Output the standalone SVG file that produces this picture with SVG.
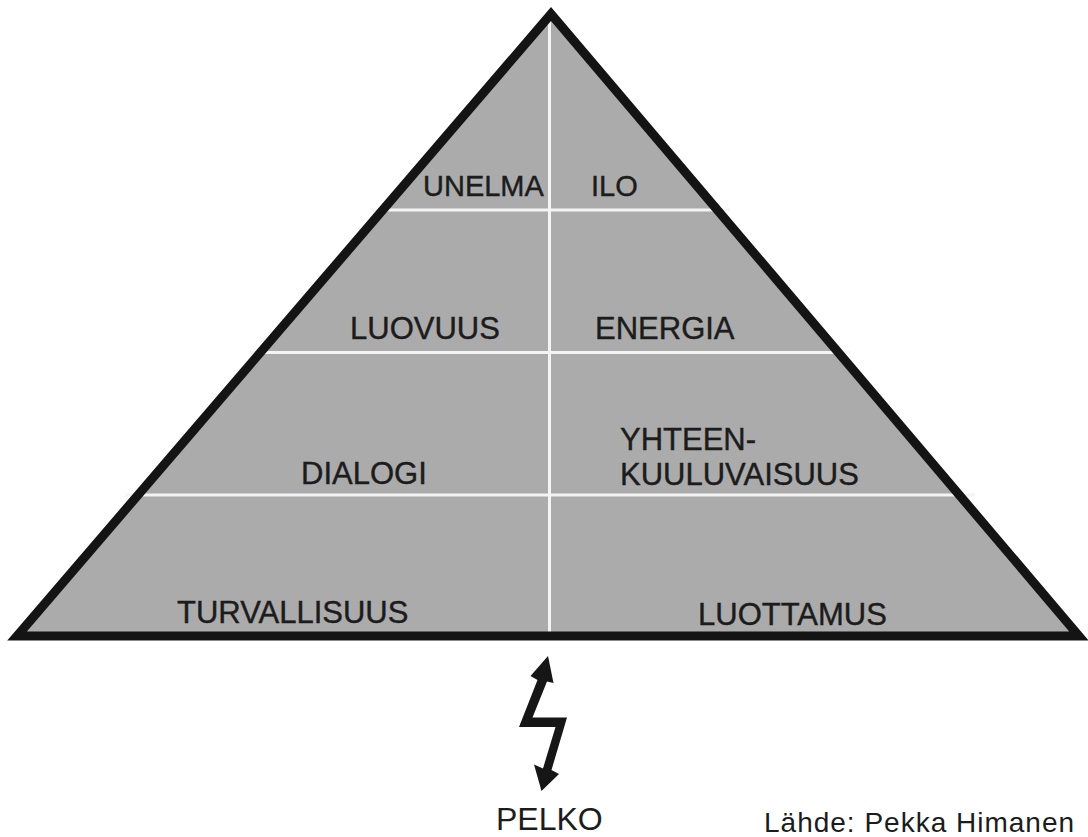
<svg xmlns="http://www.w3.org/2000/svg" width="1088" height="837" viewBox="0 0 1088 837">
<style>
.lbl{font-family:"Liberation Sans",Arial,Helvetica,sans-serif;font-size:31px;fill:#1c1c1c;stroke:#1c1c1c;stroke-width:0.4}
.sm{font-size:29px}
.div{stroke:#f4f4f4;stroke-width:3;fill:none}
</style>
<rect width="1088" height="837" fill="#ffffff"/>
<g id="pyramid">
<polygon points="551,14 17,636 1079,636" fill="#ababab"/>
<line class="div" x1="549.5" y1="14" x2="549.5" y2="636"/>
<line class="div" x1="370" y1="210" x2="730" y2="210"/>
<line class="div" x1="250" y1="352.5" x2="850" y2="352.5"/>
<line class="div" x1="125" y1="495" x2="975" y2="495"/>
<polygon points="551,14 17,636 1079,636" fill="none" stroke="#141414" stroke-width="9" stroke-linejoin="miter" stroke-miterlimit="10"/>
</g>
<g id="unelma"><text class="lbl sm" x="423" y="196">UNELMA</text></g>
<g id="ilo"><text class="lbl sm" x="591" y="196">ILO</text></g>
<g id="luovuus"><text class="lbl" x="350" y="339">LUOVUUS</text></g>
<g id="energia"><text class="lbl" x="595" y="339">ENERGIA</text></g>
<g id="dialogi"><text class="lbl" x="301" y="484">DIALOGI</text></g>
<g id="yhteenkuuluvaisuus"><text class="lbl" x="620" y="450">YHTEEN-</text><text class="lbl" x="620" y="485">KUULUVAISUUS</text></g>
<g id="turvallisuus"><text class="lbl" x="177" y="623">TURVALLISUUS</text></g>
<g id="luottamus"><text class="lbl" x="698" y="625">LUOTTAMUS</text></g>
<g id="pelko"><text class="lbl" x="496" y="830" style="font-size:32px;stroke-width:0">PELKO</text></g>
<g id="source"><text class="lbl" x="764" y="832" style="font-size:28px;letter-spacing:1px;stroke-width:0">Lähde: Pekka Himanen</text></g>
<g id="connectors">
<polygon fill="#161616" points="548,656 553.5,683 547,681.5 532.5,717.5 567,717.5 551.5,770 559,774 541.5,791 534,764.5 543,768.5 555.5,727 519,727 537.5,680 530.5,676"/>
</g>
</svg>
